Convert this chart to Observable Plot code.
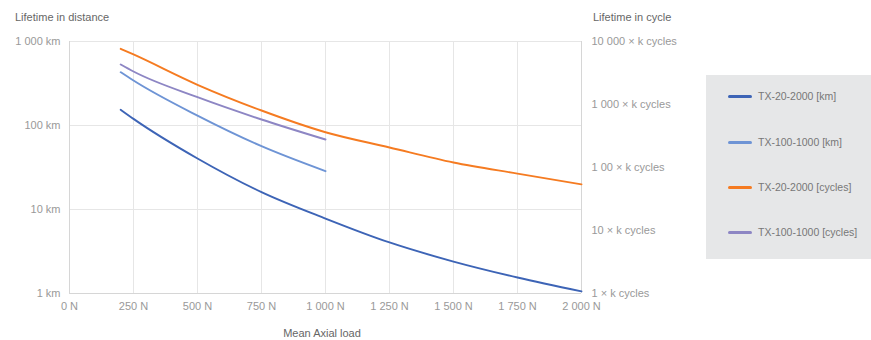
<!DOCTYPE html>
<html>
<head>
<meta charset="utf-8">
<script src="https://cdn.jsdelivr.net/npm/d3@7"></script>
<script src="https://cdn.jsdelivr.net/npm/@observablehq/plot@0.6"></script>
<style>
  body { margin: 0; background: #fff; font-family: "Liberation Sans", Arial, sans-serif; }
  #wrap { position: relative; width: 871px; height: 340px; }
  #wrap svg { display: block; }
  .ttl { position: absolute; font-size: 11px; color: #666; white-space: nowrap; line-height: 1; }
  #legend { position: absolute; left: 706px; top: 75px; width: 165px; height: 184px; background: #e6e7e8; }
  .li { position: absolute; left: 22px; font-size: 10.5px; color: #777; white-space: nowrap; line-height: 1; }
  .sw { display: inline-block; width: 24px; height: 3px; border-radius: 2px; vertical-align: middle; margin-right: 6px; position: relative; top: -1px; }
</style>
</head>
<body>
<div id="wrap"></div>
<script>
// Data
const loads20 = [200, 250, 500, 750, 1000, 1250, 1500, 1750, 2000];
const tx20Km = [154, 120, 40.5, 16.1, 7.8, 4.05, 2.4, 1.55, 1.06];
const tx20Cycles = [7650, 6220, 2055, 803, 363, 208, 120, 80, 54];
const loads100 = [200, 250, 500, 750, 1000];
const tx100Km = [431, 343, 131, 56.7, 28.6];
const tx100Cycles = [4315, 3340, 1306, 578, 278];

const seriesNames = ["TX-20-2000 [km]", "TX-100-1000 [km]", "TX-20-2000 [cycles]", "TX-100-1000 [cycles]"];
const seriesColors = ["#3d64b6", "#6e94d5", "#f57b21", "#8d86c4"];

const xTicks = [0, 250, 500, 750, 1000, 1250, 1500, 1750, 2000];
const xTickLabels = ["0 N", "250 N", "500 N", "750 N", "1 000 N", "1 250 N", "1 500 N", "1 750 N", "2 000 N"];
const kmTicks = [1, 10, 100, 1000];
const kmTickLabels = ["1 km", "10 km", "100 km", "1 000 km"];
const cycleTicks = [1, 10, 100, 1000, 10000];
const cycleTickLabels = ["1 × k cycles", "10 × k cycles", "1 00 × k cycles", "1 000 × k cycles", "10 000 × k cycles"];

// right axis (cycles, 4 decades) mapped onto left axis (km, 3 decades)
const toKm = c => Math.pow(c, 0.75);

const rows = [];
loads20.forEach((x, i) => rows.push({series: seriesNames[0], x, y: tx20Km[i]}));
loads100.forEach((x, i) => rows.push({series: seriesNames[1], x, y: tx100Km[i]}));
loads20.forEach((x, i) => rows.push({series: seriesNames[2], x, y: toKm(tx20Cycles[i])}));
loads100.forEach((x, i) => rows.push({series: seriesNames[3], x, y: toKm(tx100Cycles[i])}));

const cycTickRows = cycleTicks.map((c, i) => ({y: toKm(c), label: cycleTickLabels[i]}));

const chart = Plot.plot({
  width: 871,
  height: 340,
  marginLeft: 69,
  marginRight: 290,
  marginTop: 41,
  marginBottom: 47,
  style: {fontFamily: "'Liberation Sans', Arial, sans-serif", fontSize: "11px", color: "#999", background: "#fff"},
  x: {domain: [0, 2000]},
  y: {type: "log", domain: [1, 1000]},
  color: {domain: seriesNames, range: seriesColors},
  marks: [
    Plot.gridX(xTicks, {stroke: "#e6e6e6", strokeOpacity: 1}),
    Plot.gridY(kmTicks, {stroke: "#e6e6e6", strokeOpacity: 1}),
    Plot.ruleX([0, 2000], {stroke: "#d6d6d6"}),
    Plot.ruleY([1], {stroke: "#d6d6d6"}),
    Plot.axisX({ticks: xTicks, tickFormat: d => xTickLabels[xTicks.indexOf(d)], tickSize: 0, tickPadding: 9, label: null, fill: "#999"}),
    Plot.axisY({ticks: kmTicks, tickFormat: d => kmTickLabels[kmTicks.indexOf(d)], tickSize: 0, tickPadding: 9, label: null, fill: "#999"}),
    Plot.text(cycTickRows, {y: "y", text: "label", frameAnchor: "right", textAnchor: "start", dx: 10, fill: "#999", clip: false}),
    Plot.line(rows, {x: "x", y: "y", z: "series", stroke: "series", strokeWidth: 1.9, curve: "monotone-x"})
  ]
});

const wrap = document.getElementById("wrap");
wrap.appendChild(chart);

function addText(txt, left, top, extra) {
  const d = document.createElement("div");
  d.className = "ttl";
  d.textContent = txt;
  d.style.left = left + "px";
  d.style.top = top + "px";
  if (extra) Object.assign(d.style, extra);
  wrap.appendChild(d);
}
addText("Lifetime in distance", 15, 12);
addText("Lifetime in cycle", 593, 12);
addText("Mean Axial load", 322, 328, {transform: "translateX(-50%)"});

const legend = document.createElement("div");
legend.id = "legend";
const legendTops = [16, 62, 107, 152];
seriesNames.forEach((name, i) => {
  const it = document.createElement("div");
  it.className = "li";
  it.style.top = legendTops[i] + "px";
  it.innerHTML = `<span class="sw" style="background:${seriesColors[i]}"></span>${name}`;
  legend.appendChild(it);
});
wrap.appendChild(legend);
</script>
</body>
</html>
